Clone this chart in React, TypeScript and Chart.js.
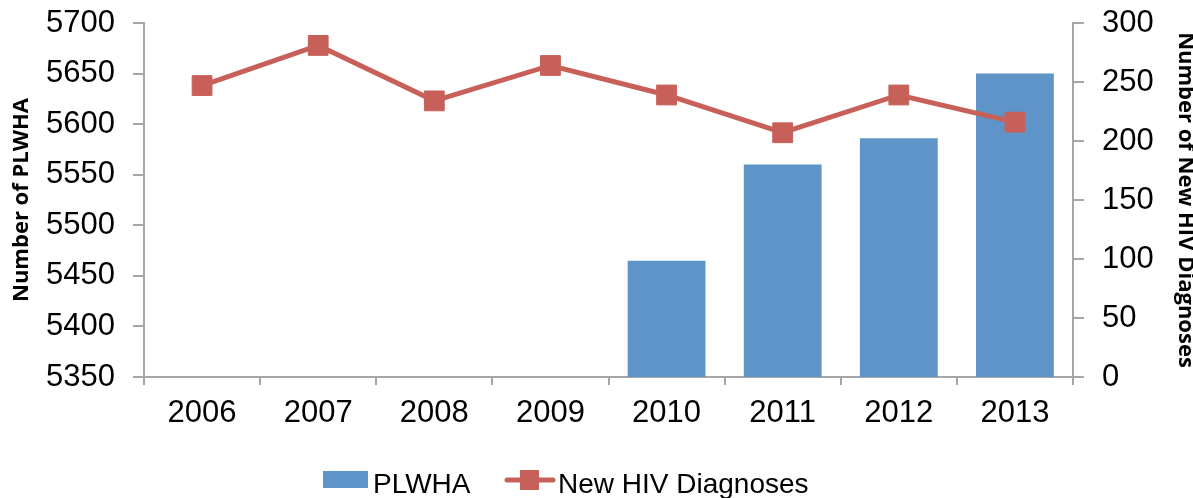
import React, { useEffect, useRef } from 'react';
import { Chart, registerables } from 'chart.js';

Chart.register(...registerables);

const years = ['2006', '2007', '2008', '2009', '2010', '2011', '2012', '2013'];
const plwha = [null, null, null, null, 5465, 5560, 5586, 5650];
const newDiagnoses = [247, 281, 234, 264, 239, 207, 239, 216];
const seriesNames = ['PLWHA', 'New HIV Diagnoses'];
const axisTitles = ['Number of PLWHA', 'Number of New HIV Diagnoses'];
const leftRange = [5350, 5700, 50];
const rightRange = [0, 300, 50];

const BAR = '#5F94C8';
const LINE = '#C8605A';
const GRAY = '#A6A6A6';
const TICK_FONT = { family: '"Liberation Sans", Arial, sans-serif', size: 31 };
const TITLE_FONT = { family: '"Open Sans", sans-serif', size: 22, weight: 'bold' as const };

const legendPlugin = {
  id: 'customLegend',
  afterDraw(chart: any) {
    const ctx = chart.ctx;
    ctx.save();
    ctx.font = '28px "Liberation Sans", Arial, sans-serif';
    ctx.textBaseline = 'alphabetic';
    ctx.textAlign = 'left';
    ctx.fillStyle = BAR;
    ctx.fillRect(323, 471, 45, 17);
    ctx.fillStyle = '#000';
    ctx.fillText(seriesNames[0], 373, 493);
    ctx.strokeStyle = LINE;
    ctx.lineWidth = 5;
    ctx.lineCap = 'round';
    ctx.beginPath();
    ctx.moveTo(507, 480);
    ctx.lineTo(553, 480);
    ctx.stroke();
    ctx.fillStyle = LINE;
    ctx.fillRect(520, 470, 19, 20);
    ctx.fillStyle = '#000';
    ctx.fillText(seriesNames[1], 558, 493);
    ctx.restore();
  },
};

const plain = (v: any) => String(v);

export default function App() {
  const ref = useRef<HTMLCanvasElement>(null);
  useEffect(() => {
    document.body.style.margin = '0';
    const canvas = ref.current;
    if (!canvas) return;
    const chart = new Chart(canvas, {
      type: 'bar',
      data: {
        labels: years,
        datasets: [
          {
            type: 'line',
            label: seriesNames[1],
            data: newDiagnoses,
            yAxisID: 'y1',
            borderColor: LINE,
            backgroundColor: LINE,
            borderWidth: 5,
            pointStyle: 'rect',
            pointRadius: 14,
            pointBorderWidth: 1,
            pointBackgroundColor: LINE,
            pointBorderColor: LINE,
            order: 0,
          } as any,
          {
            type: 'bar',
            label: seriesNames[0],
            data: plwha,
            yAxisID: 'y',
            backgroundColor: BAR,
            borderWidth: 0,
            barPercentage: 0.67,
            categoryPercentage: 1,
            order: 1,
          },
        ],
      },
      options: {
        responsive: false,
        animation: false,
        layout: { padding: { top: 23, left: 0, right: 0, bottom: 0 } },
        plugins: { legend: { display: false }, tooltip: { enabled: false } },
        scales: {
          x: {
            offset: true,
            grid: { offset: true, drawOnChartArea: false, drawTicks: true, tickLength: 8, color: GRAY, lineWidth: 2 },
            border: { color: GRAY, width: 2 },
            ticks: { font: TICK_FONT, color: '#000', padding: 10, maxRotation: 0 },
            afterFit: (s: any) => { s.height = 121; s.paddingLeft = 0; s.paddingRight = 0; },
          },
          y: {
            position: 'left',
            min: leftRange[0],
            max: leftRange[1],
            grid: { drawOnChartArea: false, drawTicks: true, tickLength: 11, color: GRAY, lineWidth: 2 },
            border: { color: GRAY, width: 2 },
            ticks: { stepSize: leftRange[2], font: TICK_FONT, color: '#000', padding: 18, callback: plain },
            title: { display: true, text: axisTitles[0], font: TITLE_FONT, color: '#000', padding: { top: 9, bottom: 0 } },
            afterFit: (s: any) => { s.width = 144; s.paddingTop = 0; s.paddingBottom = 0; },
          },
          y1: {
            position: 'right',
            min: rightRange[0],
            max: rightRange[1],
            grid: { drawOnChartArea: false, drawTicks: true, tickLength: 11, color: GRAY, lineWidth: 2 },
            border: { color: GRAY, width: 2 },
            ticks: { stepSize: rightRange[2], font: TICK_FONT, color: '#000', padding: 18, callback: plain },
            title: { display: true, text: axisTitles[1], font: { ...TITLE_FONT, lineHeight: 0.7 }, color: '#000', padding: { top: 0, bottom: 0 } },
            afterFit: (s: any) => { s.width = 120; s.paddingTop = 0; s.paddingBottom = 0; },
          },
        },
      },
      plugins: [legendPlugin],
    });
    return () => chart.destroy();
  }, []);
  return (
    <div style={{ width: 1193, height: 498, background: '#fff' }}>
      <canvas ref={ref} width={1193} height={498} />
    </div>
  );
}
